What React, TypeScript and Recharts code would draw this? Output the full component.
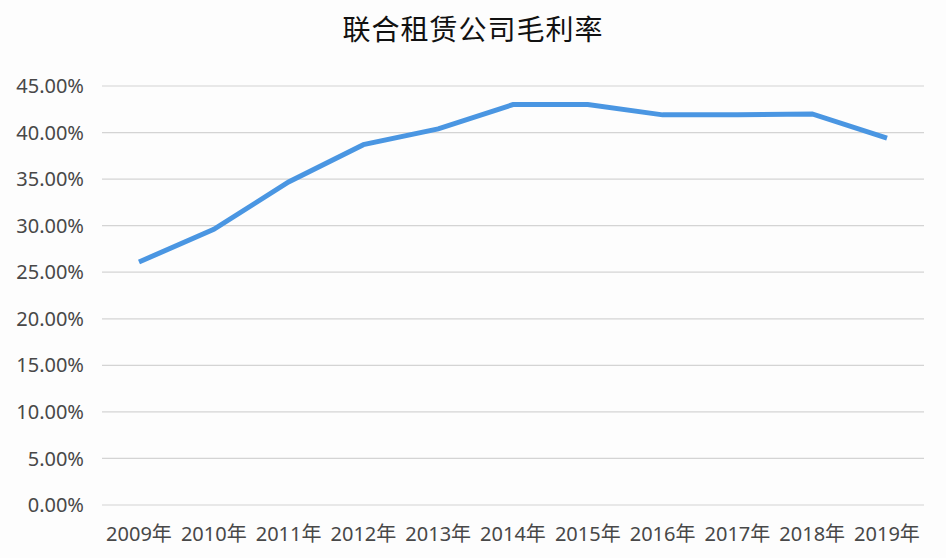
import React from "react";
import { LineChart, Line, XAxis, YAxis, CartesianGrid } from "recharts";

const years = ["2009年", "2010年", "2011年", "2012年", "2013年", "2014年", "2015年", "2016年", "2017年", "2018年", "2019年"];
const grossMargin = [0.261, 0.296, 0.347, 0.387, 0.404, 0.43, 0.43, 0.419, 0.419, 0.42, 0.394];
const yTicks = [0, 0.05, 0.1, 0.15, 0.2, 0.25, 0.3, 0.35, 0.4, 0.45];
const title = "联合租赁公司毛利率";

const data = years.map((y, i) => ({ year: y, value: grossMargin[i] }));

const font = "'Noto Sans', 'Noto Sans CJK SC', sans-serif";

export default function App() {
  return (
    <div style={{ position: "absolute", left: 0, top: 0, width: 946, height: 558, background: "#fdfdfd", fontFamily: font }}>
      <div style={{ position: "absolute", left: 0, top: 8, width: 946, textAlign: "center", fontSize: 28, lineHeight: "40px", color: "#111", fontFamily: "'Noto Sans CJK SC', sans-serif", letterSpacing: 1 }}>
        {title}
      </div>
      <LineChart width={946} height={558} data={data} margin={{ top: 86, right: 22, bottom: 0, left: 0 }}>
        <CartesianGrid vertical={false} stroke="#d4d4d4" strokeWidth={1.2} />
        <XAxis
          dataKey="year"
          axisLine={false}
          tickLine={false}
          tickSize={0}
          tickMargin={22}
          height={53}
          interval={0}
          padding={{ left: 37, right: 37 }}
          tick={{ fill: "#484848", fontSize: 20, fontFamily: font }}
        />
        <YAxis
          width={102}
          domain={[0, 0.45]}
          ticks={yTicks}
          axisLine={false}
          tickLine={false}
          tickSize={0}
          tickMargin={18}
          tickFormatter={(v: number) => (v * 100).toFixed(2) + "%"}
          tick={{ fill: "#484848", fontSize: 20, fontFamily: font }}
        />
        <Line
          type="linear"
          dataKey="value"
          stroke="#4A96E2"
          strokeWidth={5}
          dot={false}
          activeDot={false}
          isAnimationActive={false}
        />
      </LineChart>
    </div>
  );
}
